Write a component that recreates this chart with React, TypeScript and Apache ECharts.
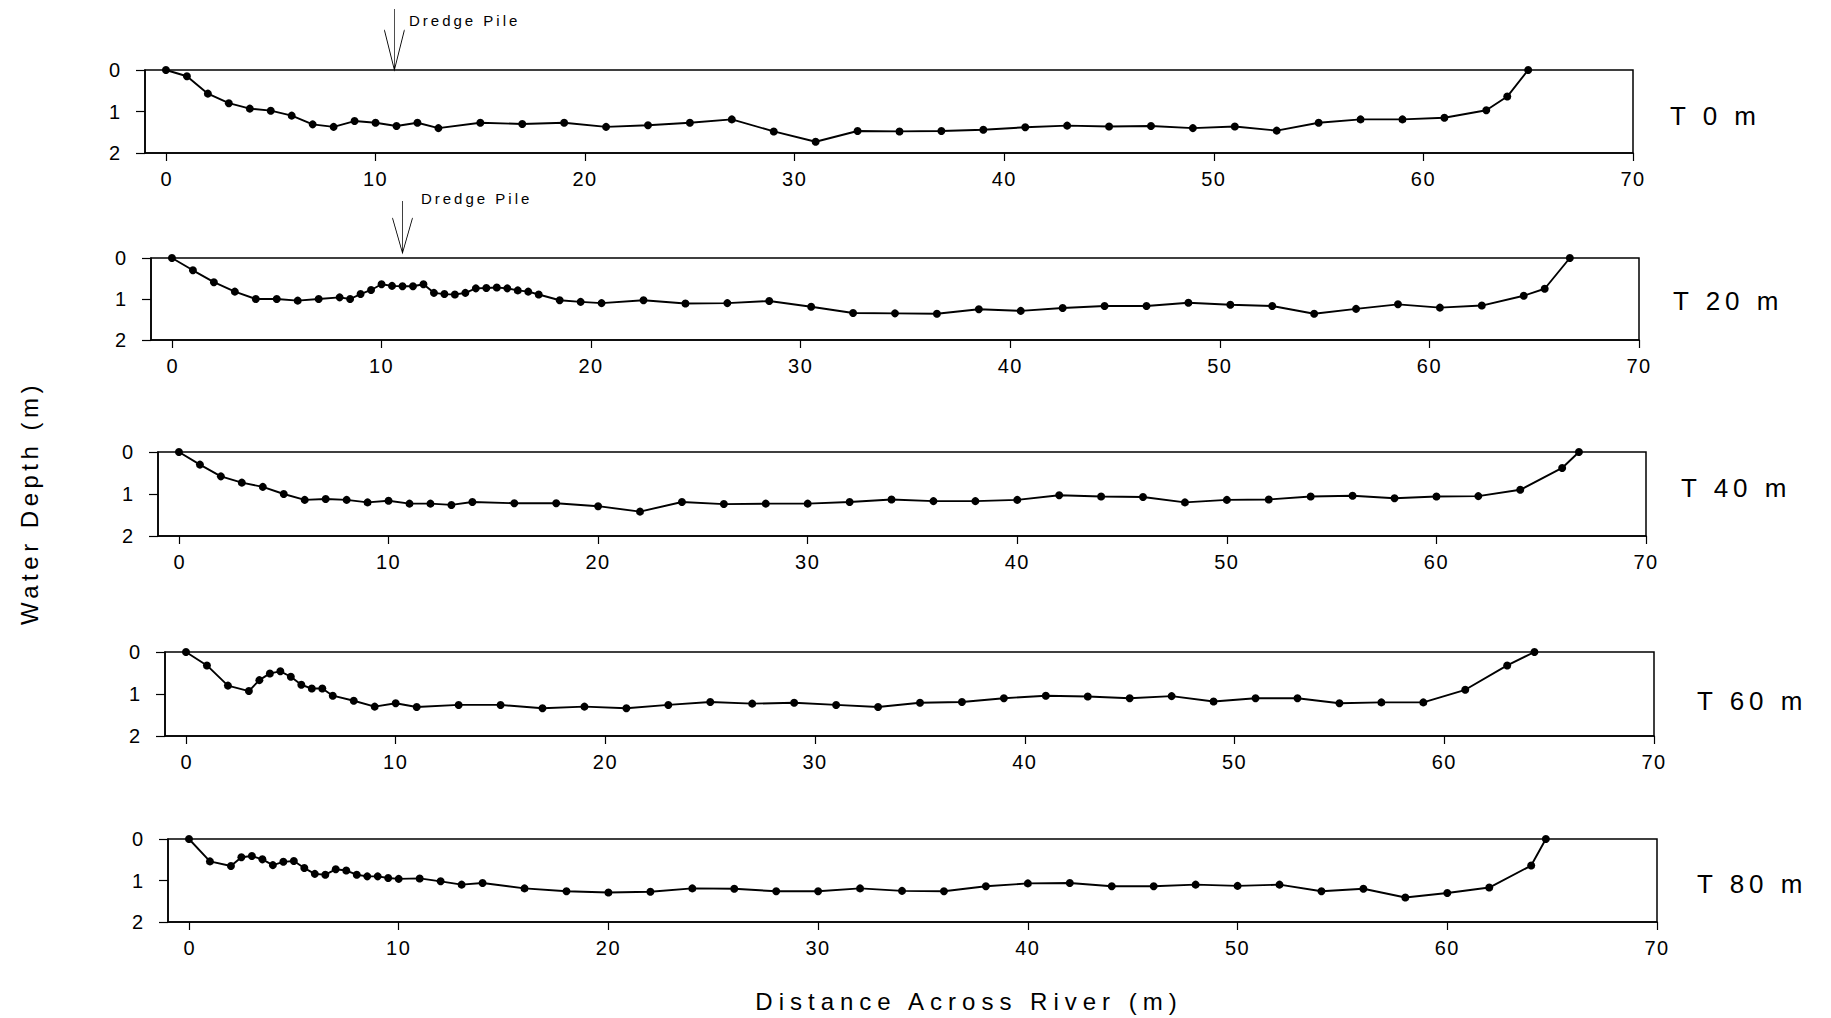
import React, { useEffect, useRef } from 'react';
import * as echarts from 'echarts';

// ---- data ----
const X_TICKS = [0, 10, 20, 30, 40, 50, 60, 70];
const Y_TICKS = [0, 1, 2];
const PANEL_LABELS = ['T 0 m', 'T 20 m', 'T 40 m', 'T 60 m', 'T 80 m'];
const DREDGE_LABEL = 'Dredge Pile';
const DREDGE_X = [10.9, 11];
const Y_TITLE = 'Water Depth (m)';
const X_TITLE = 'Distance Across River (m)';

const x1 = [0, 1, 2, 3, 4, 5, 6, 7, 8, 9, 10, 11, 12, 13, 15, 17, 19, 21, 23, 25, 27, 29, 31, 33, 35, 37, 39, 41, 43, 45, 47, 49, 51, 53, 55, 57, 59, 61, 63, 64, 65];
const y1 = [0, 0.15, 0.57, 0.8, 0.93, 0.98, 1.1, 1.31, 1.37, 1.23, 1.27, 1.35, 1.27, 1.4, 1.27, 1.3, 1.27, 1.37, 1.33, 1.27, 1.19, 1.48, 1.73, 1.47, 1.48, 1.47, 1.44, 1.38, 1.34, 1.36, 1.35, 1.4, 1.36, 1.46, 1.27, 1.19, 1.19, 1.15, 0.97, 0.64, 0];

const x2 = [0, 1, 2, 3, 4, 5, 6, 7, 8, 8.5, 9, 9.5, 10, 10.5, 11, 11.5, 12, 12.5, 13, 13.5, 14, 14.5, 15, 15.5, 16, 16.5, 17, 17.5, 18.5, 19.5, 20.5, 22.5, 24.5, 26.5, 28.5, 30.5, 32.5, 34.5, 36.5, 38.5, 40.5, 42.5, 44.5, 46.5, 48.5, 50.5, 52.5, 54.5, 56.5, 58.5, 60.5, 62.5, 64.5, 65.5, 66.7];
const y2 = [0, 0.3, 0.59, 0.82, 1.0, 1.0, 1.04, 1.0, 0.96, 1.0, 0.88, 0.78, 0.64, 0.68, 0.69, 0.69, 0.64, 0.85, 0.88, 0.89, 0.85, 0.74, 0.73, 0.72, 0.74, 0.79, 0.82, 0.89, 1.03, 1.07, 1.1, 1.03, 1.11, 1.1, 1.05, 1.19, 1.34, 1.35, 1.36, 1.25, 1.29, 1.22, 1.17, 1.17, 1.09, 1.14, 1.17, 1.36, 1.24, 1.13, 1.21, 1.16, 0.92, 0.75, 0];

const x3 = [0, 1, 2, 3, 4, 5, 6, 7, 8, 9, 10, 11, 12, 13, 14, 16, 18, 20, 22, 24, 26, 28, 30, 32, 34, 36, 38, 40, 42, 44, 46, 48, 50, 52, 54, 56, 58, 60, 62, 64, 66, 66.8];
const y3 = [0, 0.3, 0.58, 0.73, 0.83, 1.0, 1.14, 1.12, 1.14, 1.2, 1.16, 1.23, 1.23, 1.26, 1.19, 1.22, 1.22, 1.29, 1.42, 1.19, 1.24, 1.23, 1.23, 1.19, 1.13, 1.17, 1.17, 1.14, 1.03, 1.06, 1.07, 1.2, 1.14, 1.13, 1.06, 1.04, 1.1, 1.06, 1.05, 0.9, 0.38, 0];

const x4 = [0, 1, 2, 3, 3.5, 4, 4.5, 5, 5.5, 6, 6.5, 7, 8, 9, 10, 11, 13, 15, 17, 19, 21, 23, 25, 27, 29, 31, 33, 35, 37, 39, 41, 43, 45, 47, 49, 51, 53, 55, 57, 59, 61, 63, 64.3];
const y4 = [0, 0.32, 0.8, 0.93, 0.67, 0.51, 0.46, 0.59, 0.78, 0.87, 0.87, 1.04, 1.16, 1.3, 1.22, 1.31, 1.26, 1.26, 1.34, 1.3, 1.34, 1.26, 1.19, 1.23, 1.21, 1.26, 1.31, 1.21, 1.19, 1.1, 1.04, 1.06, 1.1, 1.05, 1.18, 1.1, 1.1, 1.22, 1.2, 1.2, 0.9, 0.32, 0];

const x5 = [0, 1, 2, 2.5, 3, 3.5, 4, 4.5, 5, 5.5, 6, 6.5, 7, 7.5, 8, 8.5, 9, 9.5, 10, 11, 12, 13, 14, 16, 18, 20, 22, 24, 26, 28, 30, 32, 34, 36, 38, 40, 42, 44, 46, 48, 50, 52, 54, 56, 58, 60, 62, 64, 64.7];
const y5 = [0, 0.54, 0.65, 0.44, 0.41, 0.49, 0.63, 0.55, 0.53, 0.7, 0.84, 0.86, 0.73, 0.76, 0.86, 0.9, 0.9, 0.94, 0.96, 0.95, 1.02, 1.1, 1.06, 1.19, 1.26, 1.29, 1.27, 1.19, 1.2, 1.26, 1.26, 1.19, 1.25, 1.26, 1.14, 1.07, 1.06, 1.14, 1.14, 1.1, 1.13, 1.1, 1.26, 1.2, 1.41, 1.3, 1.17, 0.64, 0];

const PANELS = [
  [x1, y1],
  [x2, y2],
  [x3, y3],
  [x4, y4],
  [x5, y5],
];

// ---- layout / style ----
const FONT = '"Liberation Sans", Arial, Helvetica, sans-serif';
const GRIDS = [
  { left: 145, top: 70, width: 1488, height: 83 },
  { left: 151, top: 258, width: 1488, height: 82 },
  { left: 158, top: 452, width: 1488, height: 84 },
  { left: 165, top: 652, width: 1489, height: 84 },
  { left: 168, top: 839, width: 1489, height: 83 },
];
const LABEL_POS = [
  [1670, 116],
  [1673, 301],
  [1681, 488],
  [1697, 701],
  [1697, 884],
];
const SPACING: Record<string, number> = {
  'T 0 m': 5,
  'T 20 m': 5,
  'T 40 m': 5,
  'T 60 m': 5,
  'T 80 m': 5,
  'Water Depth (m)': 4.5,
  'Distance Across River (m)': 6,
  'Dredge Pile': 3,
  '10': 1.5,
  '20': 1.5,
  '30': 1.5,
  '40': 1.5,
  '50': 1.5,
  '60': 1.5,
  '70': 1.5,
};

export default function App() {
  const ref = useRef<HTMLDivElement>(null);

  useEffect(() => {
    const el = ref.current!;
    const chart = echarts.init(el, null, { renderer: 'svg' });

    const arrowMarks = [
      {
        path: 'path://M10 0 L10 61 M0 21 L10 61 L20 21',
        size: [20, 61],
        offset: [0, -30.5],
        labelPos: [26, 16],
      },
      {
        path: 'path://M10 0 L10 52 M0 17 L10 52 L20 17',
        size: [20, 52],
        offset: [0, -31],
        labelPos: [30, 2],
      },
    ];

    const option: any = {
      animation: false,
      backgroundColor: '#fff',
      textStyle: { fontFamily: FONT },
      grid: GRIDS.map((g) => ({
        ...g,
        show: true,
        borderColor: '#000',
        borderWidth: 1.5,
        backgroundColor: 'transparent',
        containLabel: false,
      })),
      xAxis: GRIDS.map((_, i) => ({
        gridIndex: i,
        type: 'value',
        min: -1,
        max: 70,
        position: 'bottom',
        axisLine: { show: true, onZero: false, lineStyle: { color: '#000', width: 1.5 } },
        axisTick: { show: true, inside: false, length: 8, customValues: X_TICKS, lineStyle: { color: '#000', width: 1.2 } },
        axisLabel: { customValues: X_TICKS, margin: 16, color: '#000', fontSize: 20, fontFamily: FONT },
        splitLine: { show: false },
      })),
      yAxis: GRIDS.map((_, i) => ({
        gridIndex: i,
        type: 'value',
        inverse: true,
        min: 0,
        max: 2,
        interval: 1,
        axisLine: { show: true, onZero: false, lineStyle: { color: '#000', width: 1.5 } },
        axisTick: { show: true, inside: false, length: 9, customValues: Y_TICKS, lineStyle: { color: '#000', width: 1.2 } },
        axisLabel: { customValues: Y_TICKS, margin: 25, color: '#000', fontSize: 20, fontFamily: FONT },
        splitLine: { show: false },
      })),
      series: PANELS.map(([xs, ys], i) => {
        const s: any = {
          type: 'line',
          xAxisIndex: i,
          yAxisIndex: i,
          data: xs.map((x, k) => [x, ys[k]]),
          symbol: 'circle',
          symbolSize: 8,
          showSymbol: true,
          clip: false,
          silent: true,
          lineStyle: { color: '#000', width: 1.9 },
          itemStyle: { color: '#000' },
          emphasis: { disabled: true },
        };
        if (i < DREDGE_X.length) {
          const m = arrowMarks[i];
          s.markPoint = {
            silent: true,
            symbol: m.path,
            symbolSize: m.size,
            symbolOffset: m.offset,
            symbolKeepAspect: false,
            itemStyle: { color: 'none', borderColor: '#000', borderWidth: 1.2 },
            label: {
              show: true,
              formatter: DREDGE_LABEL,
              position: m.labelPos,
              align: 'left',
              verticalAlign: 'middle',
              color: '#000',
              fontSize: 15,
              fontFamily: FONT,
            },
            data: [{ coord: [DREDGE_X[i], 0] }],
          };
        }
        return s;
      }),
      graphic: [
        ...PANEL_LABELS.map((t, i) => ({
          type: 'text',
          x: LABEL_POS[i][0],
          y: LABEL_POS[i][1],
          silent: true,
          style: {
            text: t,
            font: `26px ${FONT}`,
            fill: '#000',
            align: 'left',
            verticalAlign: 'middle',
            textAlign: 'left',
            textVerticalAlign: 'middle',
          },
        })),
        {
          type: 'text',
          x: 29,
          y: 503,
          rotation: Math.PI / 2,
          silent: true,
          style: {
            text: Y_TITLE,
            font: `24px ${FONT}`,
            fill: '#000',
            align: 'center',
            verticalAlign: 'middle',
            textAlign: 'center',
            textVerticalAlign: 'middle',
          },
        },
        {
          type: 'text',
          x: 969,
          y: 1001,
          silent: true,
          style: {
            text: X_TITLE,
            font: `24px ${FONT}`,
            fill: '#000',
            align: 'center',
            verticalAlign: 'middle',
            textAlign: 'center',
            textVerticalAlign: 'middle',
          },
        },
      ],
    };

    chart.setOption(option);

    const applySpacing = () => {
      el.querySelectorAll('text').forEach((t) => {
        const s = SPACING[(t.textContent || '').trim()];
        if (s) t.setAttribute('letter-spacing', String(s));
      });
    };
    applySpacing();
    chart.on('finished', applySpacing);
    const timer = setTimeout(applySpacing, 50);

    return () => {
      clearTimeout(timer);
      chart.dispose();
    };
  }, []);

  return (
    <div
      ref={ref}
      style={{ position: 'absolute', left: 0, top: 0, width: 1831, height: 1018, background: '#fff' }}
    />
  );
}
